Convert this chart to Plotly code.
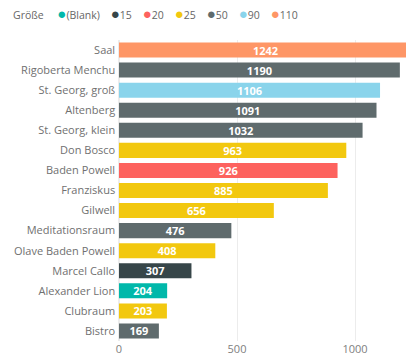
import plotly.graph_objects as go

rooms = ["Saal", "Rigoberta Menchu", "St. Georg, groß", "Altenberg", "St. Georg, klein",
         "Don Bosco", "Baden Powell", "Franziskus", "Gilwell", "Meditationsraum",
         "Olave Baden Powell", "Marcel Callo", "Alexander Lion", "Clubraum", "Bistro"]
values = [1242, 1190, 1106, 1091, 1032, 963, 926, 885, 656, 476, 408, 307, 204, 203, 169]
groups = ["110", "50", "90", "50", "50", "25", "20", "25", "25", "50", "25", "15", "(Blank)", "25", "50"]

legend_order = ["(Blank)", "15", "20", "25", "50", "90", "110"]
group_colors = {"(Blank)": "#01B8AA", "15": "#374649", "20": "#FD625E", "25": "#F2C80F",
                "50": "#5F6B6D", "90": "#8AD4EB", "110": "#FE9666"}
x_ticks = [0, 500, 1000]

fig = go.Figure()
fig.add_trace(go.Bar(
    y=rooms, x=values, orientation="h",
    marker=dict(color=[group_colors[g] for g in groups], line=dict(width=0)),
    text=values, texttemplate="<b>%{text}</b>", textposition="inside",
    insidetextanchor="middle", constraintext="none",
    textfont=dict(color="white", size=11, family="Open Sans"),
    showlegend=False, cliponaxis=True,
))

sp = "\u00a0"
legend_text = f"Größe{sp*5}" + (sp * 4).join(
    f"<span style='color:{group_colors[g]};font-size:15px'>●</span>{g}" for g in legend_order)

fig.update_layout(
    width=406, height=356,
    margin=dict(l=119, r=0, t=40, b=15, autoexpand=False),
    paper_bgcolor="white", plot_bgcolor="white",
    bargap=0.25,
    font=dict(family="Open Sans", color="#777777", size=11),
    xaxis=dict(range=[0, 1216], tickvals=x_ticks, showgrid=True, gridcolor="#ececec",
               zeroline=True, zerolinecolor="#ececec", ticks="", automargin=False,
               tickfont=dict(size=11, color="#808080"), fixedrange=True),
    yaxis=dict(categoryorder="array", categoryarray=rooms[::-1], autorange=True, ticks="",
               ticksuffix=" ", showgrid=False, automargin=False,
               tickfont=dict(size=11, color="#707070")),
    annotations=[dict(text=legend_text, xref="paper", yref="paper", x=-0.375, y=1.09,
                      xanchor="left", yanchor="middle", showarrow=False,
                      font=dict(size=10.5, color="#666666"))],
)

fig.write_html("out.html", config={"displayModeBar": False},
               post_script="document.body.style.margin='0';")
